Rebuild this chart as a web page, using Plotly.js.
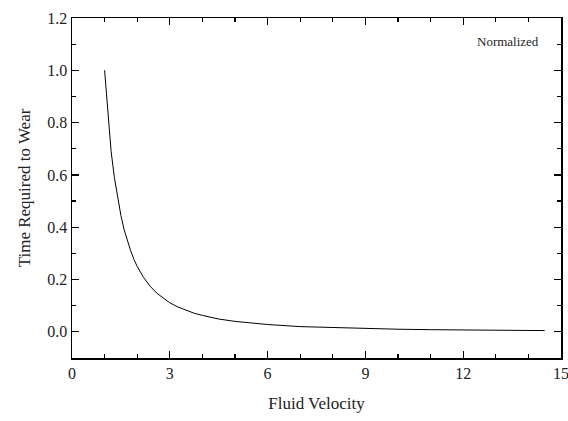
<!DOCTYPE html>
<html>
<head>
<meta charset="utf-8">
<script src="https://cdn.plot.ly/plotly-3.0.1.min.js"></script>
<style>html,body{margin:0;padding:0;background:#fff;}#chart{width:568px;height:421px;}</style>
</head>
<body>
<div id="chart"></div>
<script>
// Values
var velocity = [1.0, 1.2, 1.3, 1.4, 1.5, 1.6, 1.7, 1.8, 1.9, 2.0, 2.2, 2.4, 2.6, 2.8, 3.0, 3.25, 3.5, 3.75, 4.0, 4.5, 5.0, 5.5, 6.0, 7.0, 8.0, 9.0, 10.0, 11.0, 12.0, 13.0, 14.0, 14.5];
var timeToWear = [1.0, 0.69, 0.59, 0.51, 0.445, 0.39, 0.346, 0.31, 0.277, 0.25, 0.207, 0.174, 0.148, 0.128, 0.111, 0.095, 0.082, 0.071, 0.063, 0.049, 0.040, 0.033, 0.028, 0.020, 0.016, 0.012, 0.010, 0.0083, 0.0069, 0.0059, 0.0051, 0.0048];
var xTickVals = [0, 3, 6, 9, 12, 15];
var xMinorVals = [1, 2, 4, 5, 7, 8, 10, 11, 13, 14];
var yTickVals = [0.0, 0.2, 0.4, 0.6, 0.8, 1.0, 1.2];
var yMinorVals = [-0.1, 0.1, 0.3, 0.5, 0.7, 0.9, 1.1];
var yTickText = ["0.0", "0.2", "0.4", "0.6", "0.8", "1.0", "1.2"];

var serif = "Liberation Serif";
var trace = {
  x: velocity, y: timeToWear, type: "scatter", mode: "lines",
  line: {color: "#000", width: 1}, hoverinfo: "none"
};
// same series bound to the mirror (top/right) axes so that they are drawn; invisible
var mirrorTrace = {
  x: velocity, y: timeToWear, type: "scatter", mode: "lines", xaxis: "x2", yaxis: "y2",
  line: {color: "rgba(0,0,0,0)", width: 0}, hoverinfo: "none", showlegend: false
};
var minorStyle = {ticks: "inside", ticklen: 4, tickwidth: 1.2, tickcolor: "#000"};
var axisCommon = {
  showgrid: false, zeroline: false, showline: true, linecolor: "#000", linewidth: 1.5,
  ticks: "inside", ticklen: 7, tickwidth: 1.2, tickcolor: "#000",
  ticklabeloverflow: "allow",
  tickfont: {family: serif, size: 16, color: "#222"}
};
var layout = {
  width: 568, height: 421,
  margin: {l: 72, r: 7, t: 18, b: 63},
  paper_bgcolor: "#fff", plot_bgcolor: "#fff",
  showlegend: false,
  xaxis: Object.assign({}, axisCommon, {
    range: [0, 15], tickvals: xTickVals, ticktext: xTickVals.map(String),
    minor: Object.assign({tickvals: xMinorVals}, minorStyle),
    title: {text: "Fluid Velocity", font: {family: serif, size: 17, color: "#222"}, standoff: 16}
  }),
  yaxis: Object.assign({}, axisCommon, {
    range: [-0.1, 1.2], tickvals: yTickVals, ticktext: yTickText,
    minor: Object.assign({tickvals: yMinorVals}, minorStyle),
    title: {text: "Time Required to Wear", font: {family: serif, size: 17, color: "#222"}, standoff: 12}
  }),
  xaxis2: Object.assign({}, axisCommon, {
    overlaying: "x", side: "top", range: [0, 15], anchor: "y2",
    tickvals: xTickVals, showticklabels: false,
    minor: Object.assign({tickvals: xMinorVals}, minorStyle)
  }),
  yaxis2: Object.assign({}, axisCommon, {
    overlaying: "y", side: "right", range: [-0.1, 1.2], anchor: "x2",
    tickvals: yTickVals, showticklabels: false,
    minor: Object.assign({tickvals: yMinorVals}, minorStyle)
  }),
  annotations: [{
    text: "Normalized", xref: "paper", yref: "paper", x: 0.96, y: 0.93,
    xanchor: "right", yanchor: "middle", showarrow: false,
    font: {family: serif, size: 13, color: "#222"}
  }]
};
Plotly.newPlot("chart", [trace, mirrorTrace], layout, {displayModeBar: false, staticPlot: true});
</script>
</body>
</html>
